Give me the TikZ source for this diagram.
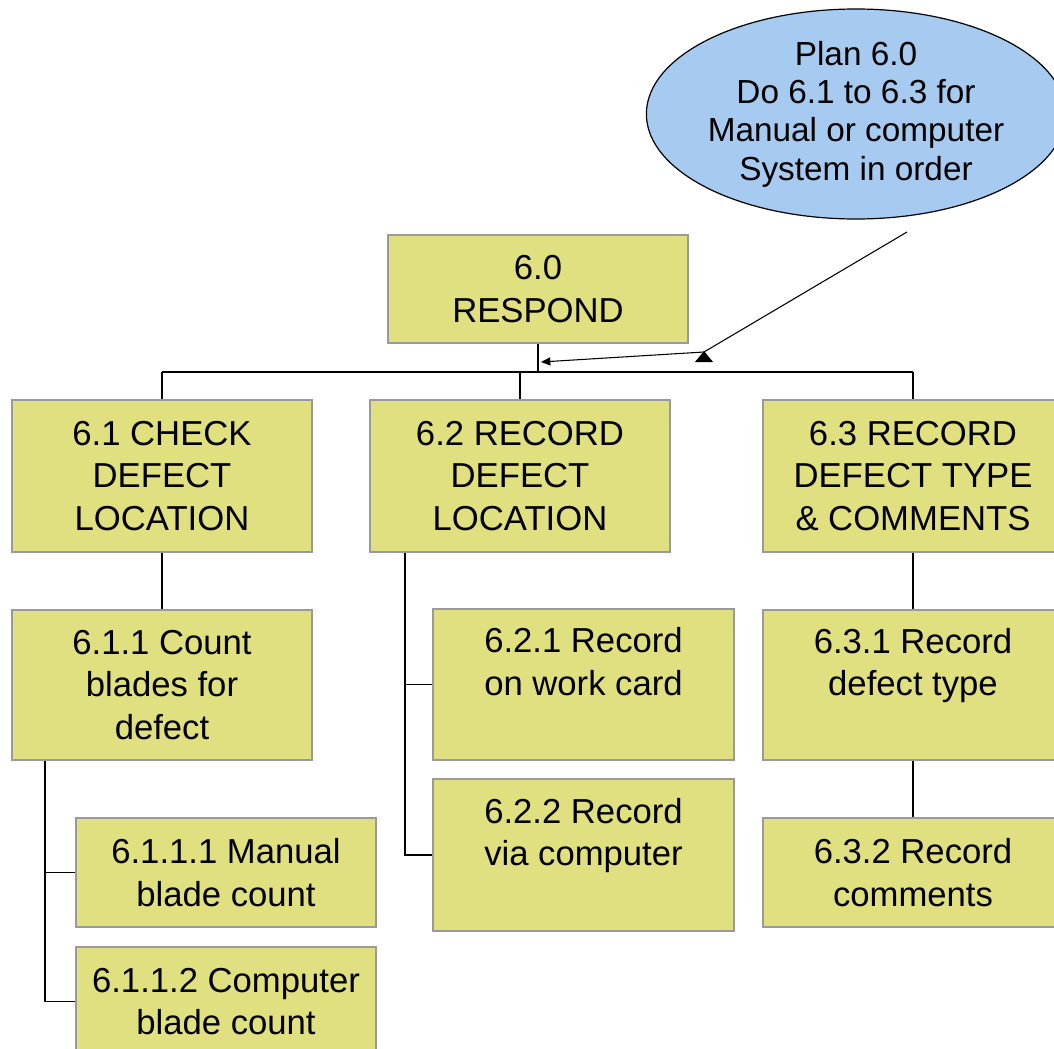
\documentclass[tikz,border=0pt]{standalone}
\usepackage{fontspec}
\setmainfont{Liberation Sans}
\usetikzlibrary{shapes.geometric,arrows.meta,calc}
\definecolor{boxfill}{HTML}{E0E080}
\definecolor{boxedge}{HTML}{9A9A9A}
\definecolor{planfill}{HTML}{A6CAF0}
\begin{document}
\begin{tikzpicture}[x=0.75pt,y=-0.75pt,
  task/.style={draw=boxedge, line width=1.2pt, fill=boxfill, align=center,
    font=\fontsize{26}{32}\selectfont, inner sep=0pt},
  box/.style 2 args={task, minimum width=#1*0.75pt, minimum height=#2*0.75pt},
  plan/.style={ellipse, draw=black, line width=0.9pt, fill=planfill, align=center,
    inner sep=0pt, minimum width=402*0.75pt, minimum height=210*0.75pt,
    font=\fontsize{25}{28.7}\selectfont},
  link/.style={draw=black, line width=1.4pt},
  planline/.style={draw=black, line width=0.8pt}]
\useasboundingbox (0,0) rectangle (1054,1049);
\fill[white] (0,0) rectangle (1054,1049);
\clip (0,0) rectangle (1054,1049);

% plan note
\node[plan] (P) at (856,114) {Plan 6.0\\Do 6.1 to 6.3 for\\Manual or computer\\System in order};

% task hierarchy
\node[box={300}{108}] (R) at (538,289) {6.0\\RESPOND};
\node[box={300}{152}] (C61) at (162,476) {6.1 CHECK\\DEFECT\\LOCATION};
\node[box={300}{152}] (C62) at (520,476) {6.2 RECORD\\DEFECT\\LOCATION};
\node[box={300}{152}] (C63) at (913,476) {6.3 RECORD\\DEFECT TYPE\\\& COMMENTS};
\node[box={300}{150}] (C611) at (162,685) {6.1.1 Count\\blades for\\defect};
\node[box={300}{109}] (C6111) at (226,872.5) {6.1.1.1 Manual\\blade count};
\node[box={300}{109}] (C6112) at (226,1001.5) {6.1.1.2 Computer\\blade count};
\node[box={301}{151}] (C621) at (583.5,684.5) {6.2.1 Record\\on work card\\[-7pt]\strut};
\node[box={301}{152}] (C622) at (583.5,855) {6.2.2 Record\\via computer\\[-7pt]\strut};
\node[box={300}{150}] (C631) at (913,685) {6.3.1 Record\\defect type\\[-7pt]\strut};
\node[box={300}{109}] (C632) at (913,872.5) {6.3.2 Record\\comments};

% top-level bus
\coordinate (bus) at (0,372);
\draw[link] (R.south) -- (R.south |- bus);
\draw[link] (C61.north |- bus) -- (C63.north |- bus);
\draw[link] (C61.north |- bus) -- (C61.north);
\draw[link] (C62.north |- bus) -- (C62.north);
\draw[link] (C63.north |- bus) -- (C63.north);

% 6.1 branch
\draw[link] (C61.south) -- (C611.north);
\coordinate (t1) at ($(C611.south west)+(34,0)$);
\draw[link] (t1) |- (C6112.west);
\draw[link] (t1 |- C6111.west) -- (C6111.west);

% 6.2 branch
\coordinate (t2) at ($(C62.south west)+(36,0)$);
\draw[link] (t2) |- (C622.west);
\draw[link] (t2 |- C621.west) -- (C621.west);

% 6.3 branch
\draw[link] (C63.south) -- (C631.north);
\draw[link] (C631.south) -- (C632.north);

% plan pointer
\coordinate (pstart) at (907,232);
\coordinate (pbend) at (704,352);
\coordinate (ptip) at (541,362);
\draw[planline, -{Triangle[length=7pt,width=6pt]}] (pstart) -- (pbend) -- (ptip);
\fill[black] ($(pbend)+(-9,10)$) -- ($(pbend)+(9,10)$) -- ($(pbend)+(0,-1)$) -- cycle;
\end{tikzpicture}
\end{document}
